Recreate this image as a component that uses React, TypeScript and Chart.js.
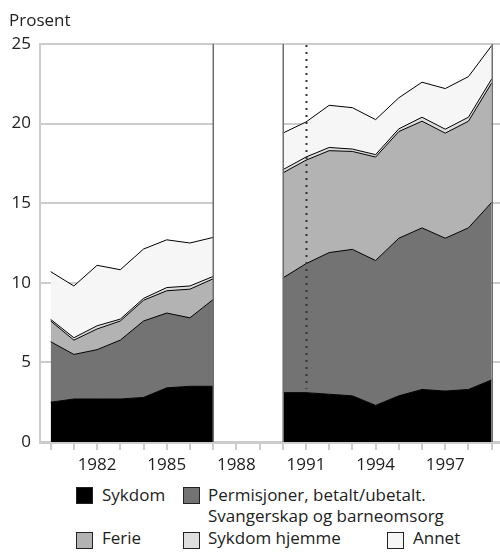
import React, { useEffect, useRef } from "react";
import { Chart, registerables } from "chart.js";

Chart.register(...registerables);

const yearsA = [1980, 1981, 1982, 1983, 1984, 1985, 1986, 1987];
const yearsB = [1990, 1991, 1992, 1993, 1994, 1995, 1996, 1997, 1998, 1999];
const allYears = [1980, 1981, 1982, 1983, 1984, 1985, 1986, 1987, 1988, 1989, 1990, 1991, 1992, 1993, 1994, 1995, 1996, 1997, 1998, 1999];
const labelYears = [1982, 1985, 1988, 1991, 1994, 1997];
const yTicks = [0, 5, 10, 15, 20, 25];

const sykdomA = [2.5, 2.7, 2.7, 2.7, 2.8, 3.4, 3.5, 3.5];
const permisjonA = [3.8, 2.8, 3.1, 3.7, 4.8, 4.7, 4.3, 5.45];
const ferieA = [1.3, 0.9, 1.3, 1.2, 1.3, 1.4, 1.8, 1.3];
const hjemmeA = [0.1, 0.15, 0.2, 0.12, 0.12, 0.2, 0.2, 0.15];
const annetA = [3.0, 3.25, 3.8, 3.1, 3.1, 3.0, 2.7, 2.45];

const sykdomB = [3.1, 3.1, 3.0, 2.9, 2.3, 2.9, 3.3, 3.2, 3.3, 3.9];
const permisjonB = [7.2, 8.1, 8.9, 9.2, 9.1, 9.9, 10.15, 9.6, 10.15, 11.15];
const ferieB = [6.6, 6.5, 6.4, 6.15, 6.5, 6.7, 6.7, 6.6, 6.7, 7.5];
const hjemmeB = [0.2, 0.2, 0.2, 0.15, 0.15, 0.17, 0.25, 0.25, 0.25, 0.25];
const annetB = [2.3, 2.2, 2.65, 2.6, 2.2, 1.95, 2.2, 2.55, 2.55, 2.1];

const gapStart = 1987;
const gapEnd = 1990;
const lastYear = 1999;
const markerYear = 1991;

const seriesNames = ["Sykdom", "Permisjoner, betalt/ubetalt. Svangerskap og barneomsorg", "Ferie", "Sykdom hjemme", "Annet"];
const colors = ["#000000", "#737373", "#b3b3b3", "#dedede", "#f6f6f6"];

const FONT = "'Open Sans', 'Noto Sans', sans-serif";
const FS = 17;

const toPoints = (xs: number[], ys: number[]) => xs.map((x, i) => ({ x, y: ys[i] }));

const gapPlugin = {
  id: "gapPlugin",
  beforeDatasetsDraw(chart: any) {
    const { ctx, chartArea, scales } = chart;
    const x = scales.x;
    const x0 = x.getPixelForValue(gapStart);
    const x1 = x.getPixelForValue(gapEnd);
    ctx.save();
    ctx.fillStyle = "#ffffff";
    ctx.fillRect(x0, chartArea.top + 1.5, x1 - x0, chartArea.bottom - chartArea.top - 2.5);
    ctx.restore();
  },
  afterDatasetsDraw(chart: any) {
    const { ctx, chartArea, scales } = chart;
    const x = scales.x;
    const y = scales.y;
    ctx.save();
    ctx.strokeStyle = "#6e6e6e";
    ctx.lineWidth = 1.5;
    [gapStart, gapEnd, lastYear].forEach((v) => {
      const px = Math.round(x.getPixelForValue(v)) + 0.25;
      ctx.beginPath();
      ctx.moveTo(px, chartArea.top);
      ctx.lineTo(px, chartArea.bottom);
      ctx.stroke();
    });
    const mx = Math.round(x.getPixelForValue(markerYear)) + 0.5;
    const idx = yearsB.indexOf(markerYear);
    const yEnd = y.getPixelForValue(sykdomB[idx]) - 4;
    ctx.strokeStyle = "#333333";
    ctx.lineWidth = 2;
    ctx.setLineDash([2, 5]);
    ctx.beginPath();
    ctx.moveTo(mx, chartArea.top + 1);
    ctx.lineTo(mx, yEnd);
    ctx.stroke();
    ctx.restore();
  },
};

export default function App() {
  const ref = useRef<HTMLCanvasElement | null>(null);
  useEffect(() => {
    if (!ref.current) return;
    const seriesA = [sykdomA, permisjonA, ferieA, hjemmeA, annetA];
    const seriesB = [sykdomB, permisjonB, ferieB, hjemmeB, annetB];
    const datasets: any[] = [];
    [
      { xs: yearsA, ser: seriesA },
      { xs: yearsB, ser: seriesB },
    ].forEach(({ xs, ser }) => {
      ser.forEach((vals, i) => {
        datasets.push({
          label: seriesNames[i],
          data: toPoints(xs, vals),
          backgroundColor: colors[i],
          borderColor: "#000000",
          borderWidth: 1,
          pointRadius: 0,
          tension: 0,
          fill: i === 0 ? "origin" : "-1",
          stack: "s",
        });
      });
    });
    const chart = new Chart(ref.current, {
      type: "line",
      data: { datasets },
      options: {
        animation: false,
        responsive: false,
        maintainAspectRatio: false,
        layout: { padding: { top: 44, right: 0, left: 0, bottom: 0 } },
        plugins: { legend: { display: false }, tooltip: { enabled: false } },
        scales: {
          x: {
            type: "linear",
            min: 1979.54,
            max: 1999.36,
            afterBuildTicks: (s: any) => {
              s.ticks = allYears.map((v) => ({ value: v }));
            },
            afterFit: (s: any) => {
              s.height = 38;
            },
            grid: { display: true, drawOnChartArea: false, drawTicks: true, tickLength: 8, color: "#cccccc", lineWidth: 2 },
            border: { display: true, color: "#cccccc", width: 3 },
            ticks: {
              autoSkip: false,
              maxRotation: 0,
              padding: 5,
              color: "#222222",
              font: { family: FONT, size: FS },
              callback: (v: any) => (labelYears.includes(Number(v)) ? String(v) : ""),
            },
          },
          y: {
            type: "linear",
            stacked: true,
            min: 0,
            max: 25,
            afterBuildTicks: (s: any) => {
              s.ticks = yTicks.map((v) => ({ value: v }));
            },
            afterFit: (s: any) => {
              s.width = 40;
            },
            grid: { display: true, drawOnChartArea: true, drawTicks: false, color: "#cccccc", lineWidth: 2 },
            border: { display: true, color: "#cccccc", width: 2 },
            ticks: {
              padding: 9,
              color: "#222222",
              font: { family: FONT, size: FS },
            },
          },
        },
      },
      plugins: [gapPlugin],
    });
    return () => chart.destroy();
  }, []);

  const sq = (left: number, top: number, color: string) => (
    <div
      style={{
        position: "absolute",
        left,
        top,
        width: 15,
        height: 15,
        background: color,
        border: "1px solid #222",
      }}
    />
  );
  const txt = (left: number, top: number, text: React.ReactNode) => (
    <div style={{ position: "absolute", left, top, fontFamily: FONT, fontSize: FS, lineHeight: "21px", color: "#222", whiteSpace: "nowrap" }}>
      {text}
    </div>
  );

  return (
    <div style={{ position: "absolute", left: 0, top: 0, width: 500, height: 552, background: "#fff", overflow: "hidden" }}>
      <canvas ref={ref} width={500} height={480} style={{ position: "absolute", left: 0, top: 0, width: 500, height: 480 }} />
      {txt(9, 9, "Prosent")}
      {sq(76, 487, colors[0])}
      {txt(102, 484, seriesNames[0])}
      {sq(183, 487, colors[1])}
      {txt(208, 484, <>Permisjoner, betalt/ubetalt.<br />Svangerskap og barneomsorg</>)}
      {sq(76, 532, colors[2])}
      {txt(102, 527, seriesNames[2])}
      {sq(183, 532, colors[3])}
      {txt(208, 527, seriesNames[3])}
      {sq(387, 532, colors[4])}
      {txt(413, 527, seriesNames[4])}
    </div>
  );
}
